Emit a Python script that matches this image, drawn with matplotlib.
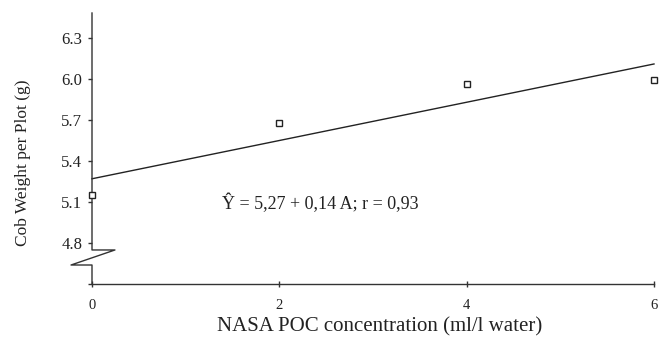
import matplotlib
matplotlib.use("Agg")
import matplotlib.pyplot as plt

# data
conc = [0, 2, 4, 6]
cob_weight = [5.15, 5.68, 5.96, 5.99]
intercept = 5.27
slope = 0.14
yticks = [4.5, 4.8, 5.1, 5.4, 5.7, 6.0, 6.3]
ytick_labels = ["", "4.8", "5.1", "5.4", "5.7", "6.0", "6.3"]
xticks = [0, 2, 4, 6]

plt.rcParams["font.family"] = ["Liberation Serif", "DejaVu Serif"]

fig = plt.figure(figsize=(6.59, 3.39), dpi=100)
ax = fig.add_axes([92 / 659, 1 - 284 / 339, 562 / 659, 271 / 339])

ax.set_xlim(0, 6)
ax.set_ylim(4.5, 6.483)

# fitted line
fit_x = [conc[0], conc[-1]]
fit_y = [intercept + slope * x for x in fit_x]
ax.plot(fit_x, fit_y, color="#222222", lw=1.0, clip_on=False)

ax.plot(conc, cob_weight, ls="none", marker="s", ms=4.5, mfc="white",
        mec="#222222", mew=1.0, clip_on=False, zorder=5)

ax.text(1.39, 5.09, "Ŷ = 5,27 + 0,14 A; r = 0,93", fontsize=13,
        va="center", ha="left", color="#222222")

# spines
for s in ["top", "right", "left"]:
    ax.spines[s].set_visible(False)
ax.spines["bottom"].set_color("#333333")
ax.spines["bottom"].set_linewidth(1.0)

# left axis with a break near the bottom
brk_x = [0, 0, 0.245, -0.224, 0, 0]
brk_y = [6.483, 4.749, 4.749, 4.639, 4.639, 4.5]
ax.plot(brk_x, brk_y, color="#333333", lw=1.0, clip_on=False, zorder=4)

ax.set_yticks(yticks)
ax.set_yticklabels(ytick_labels)
ax.set_xticks(xticks)
ax.set_xticklabels([str(x) for x in xticks])
ax.tick_params(axis="y", direction="out", length=3, width=1, pad=4,
               labelsize=12, colors="#333333", labelcolor="#222222")
ax.tick_params(axis="x", direction="inout", length=4, width=1, pad=9,
               labelsize=10.5, colors="#333333", labelcolor="#222222")

fig.text(23 / 659, 1 - 163 / 339, "Cob Weight per Plot (g)", rotation=90,
         ha="center", va="center", fontsize=12.5, color="#222222")
fig.text(380 / 659, 1 - 327 / 339, "NASA POC concentration (ml/l water)",
         ha="center", va="center", fontsize=15, color="#222222")

fig.savefig("out.png", dpi=100)
